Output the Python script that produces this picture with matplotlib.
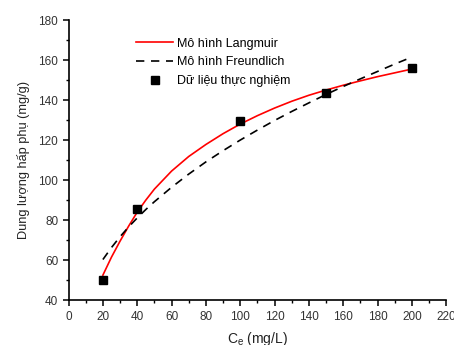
import matplotlib.pyplot as plt
from matplotlib.ticker import MultipleLocator

plt.rcParams['font.family'] = ['Liberation Sans', 'DejaVu Sans']
plt.rcParams['mathtext.default'] = 'regular'

# experimental isotherm points
c_exp = [20, 40, 100, 150, 200]
q_exp = [50, 85.5, 129.5, 143.5, 156]

# fitted model curves
c_fit = [20, 25, 30, 35, 40, 45, 50, 60, 70, 80, 90, 100, 110, 120, 130,
         140, 150, 160, 170, 180, 190, 200]
q_langmuir = [52.5, 61.5, 69.5, 77.0, 84.0, 90.0, 95.5, 104.5, 111.8,
              117.8, 123.2, 128, 132.2, 136, 139.4, 142.4, 145, 147.4,
              149.6, 151.7, 153.6, 155.5]
q_freundlich = [60.3, 66.3, 71.7, 76.6, 81.1, 85.3, 89.2, 96.4, 103.0,
                109.1, 114.7, 120.0, 125.0, 129.8, 134.3, 138.6, 142.8,
                146.8, 150.6, 154.3, 158.0, 161.5]

fig = plt.figure(figsize=(4.54, 3.45), dpi=100)
ax = fig.add_axes([0.151, 0.130, 0.832, 0.812])

ax.plot(c_fit, q_langmuir, color='red', lw=1.2, label=u'Mô hình Langmuir')
ax.plot(c_fit, q_freundlich, color='black', lw=1.2, ls=(0, (5, 4)),
        label=u'Mô hình Freundlich')
ax.plot(c_exp, q_exp, 's', color='black', ms=5.5, ls='none',
        label=u'Dữ liệu thực nghiệm')

ax.set_xlim(0, 220)
ax.set_ylim(40, 180)
ax.xaxis.set_major_locator(MultipleLocator(20))
ax.xaxis.set_minor_locator(MultipleLocator(10))
ax.yaxis.set_major_locator(MultipleLocator(20))
ax.yaxis.set_minor_locator(MultipleLocator(10))

for s in ['top', 'right']:
    ax.spines[s].set_visible(False)
for s in ['left', 'bottom']:
    ax.spines[s].set_linewidth(1.2)

ax.tick_params(which='major', direction='out', length=4, width=1.1,
               labelsize=8.5, colors='black', labelcolor='#333333')
ax.tick_params(which='minor', direction='out', length=2.5, width=1.0)

ax.set_xlabel(u'C$_e$ (mg/L)', fontsize=10, color='#222222', labelpad=5)
ax.set_ylabel(u'Dung lượng hấp phụ (mg/g)', fontsize=9.2, color='#222222',
              labelpad=6)

ax.legend(loc='upper left', bbox_to_anchor=(0.165, 0.955), frameon=False,
          fontsize=9, handlelength=3.0, handletextpad=0.3,
          labelspacing=0.55, borderaxespad=0)

fig.savefig('out.png', dpi=100)
